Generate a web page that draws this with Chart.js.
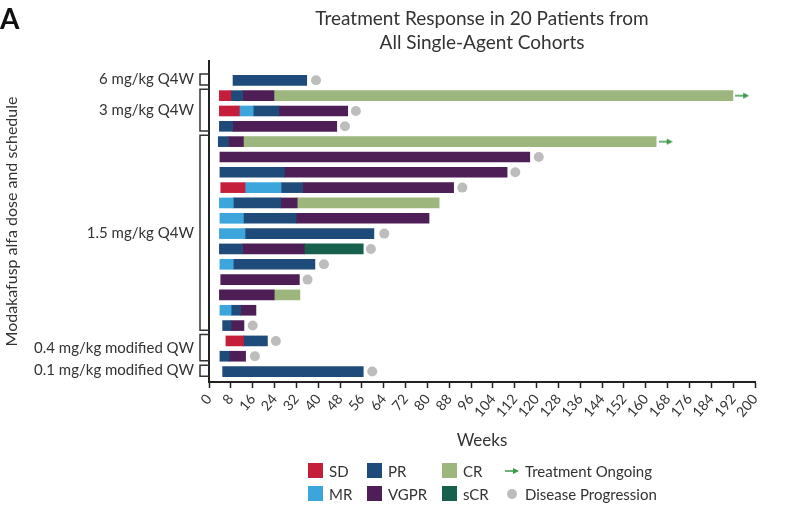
<!DOCTYPE html>
<html>
<head>
<meta charset="utf-8">
<script src="https://cdn.jsdelivr.net/npm/chart.js@4/dist/chart.umd.min.js"></script>
<style>
  body { margin: 0; background: #fff; font-family: Lato, sans-serif; }
  #wrap { position: relative; width: 800px; height: 527px; }
  #legend {
    position: absolute; left: 308px; top: 459px;
    display: grid; grid-auto-flow: column;
    grid-template-rows: 23px 23px;
    grid-template-columns: 59px 75px 61px auto;
    font-size: 15px; color: #333;
  }
  .item { display: flex; align-items: center; }
  .box { width: 15px; height: 15px; margin-right: 6px; }
  .mark { width: 17px; margin-right: 5px; display: flex; justify-content: center; align-items: center; }
  .dot { width: 10px; height: 10px; border-radius: 50%; background: #bdbdbd; }
</style>
</head>
<body>
<div id="wrap">
  <canvas id="canva"></canvas>
  <div id="legend"></div>
</div>
<script>
// patients top to bottom, grouped by dose cohort
var patients = [0,1,2,3,4,5,6,7,8,9,10,11,12,13,14,15,16,17,18,19];
var groupLabels = ['6 mg/kg Q4W', '3 mg/kg Q4W', '1.5 mg/kg Q4W', '0.4 mg/kg modified QW', '0.1 mg/kg modified QW'];
var groupSizes = [1, 3, 13, 2, 1];

// response periods in weeks [start, end], one entry per patient
var sd   = [null, [3.8,8.0], [3.8,11.1], null, null, null, null, [4.3,13.2], null, null, null, null, null, null, null, null, null, [6.2,12.6], null, null];
var mr   = [null, null, [11.1,16.2], null, null, null, null, [13.2,26.4], [3.8,8.9], [4.0,12.6], [3.8,13.2], null, [4.0,8.9], null, null, [4.0,8.1], null, null, null, null];
var pr   = [[8.8,35.8], [8.0,12.3], [16.2,25.6], [3.8,8.7], [3.4,7.1], null, [4.0,27.6], [26.4,34.3], [8.9,26.3], [12.6,31.9], [13.2,60.4], [3.8,12.3], [8.9,38.8], null, null, [8.1,11.6], [5.0,8.1], [12.6,21.4], [4.0,7.4], [5.0,56.5]];
var vgpr = [null, [12.3,23.8], [25.6,50.8], [8.7,46.8], [7.1,12.6], [4.0,117.5], [27.6,109.2], [34.3,89.6], [26.3,32.3], [31.9,80.6], null, [12.3,34.9], null, [4.3,33.1], [3.8,23.9], [11.6,17.2], [8.1,12.8], null, [7.4,13.4], null];
var cr   = [null, [23.8,191.9], null, null, [12.6,163.8], null, null, null, [32.3,84.3], null, null, null, null, null, [23.9,33.3], null, null, null, null, null];
var scr  = [null, null, null, null, null, null, null, null, null, null, null, [34.9,56.5], null, null, null, null, null, null, null, null];

// marker positions in weeks
var progression = [39.2, null, 53.8, 49.8, null, 120.8, 112.2, 92.8, null, null, 64.2, 59.3, 42.1, 36.1, null, null, 16.0, 24.5, 16.8, 59.8];
var ongoing     = [null, 195.3, null, null, 167.3, null, null, null, null, null, null, null, null, null, null, null, null, null, null, null];

var weekTicks = { min: 0, max: 200, step: 8 };

var responses = [
  { label: 'SD',   data: sd,   color: '#c41e3a' },
  { label: 'MR',   data: mr,   color: '#3ca6dc' },
  { label: 'PR',   data: pr,   color: '#1f4b7a' },
  { label: 'VGPR', data: vgpr, color: '#4e1f57' },
  { label: 'CR',   data: cr,   color: '#9db67e' },
  { label: 'sCR',  data: scr,  color: '#16604d' }
];
var arrowColor = '#3a9a4a';
var dotColor = '#bdbdbd';

function arrowImage(color) {
  var c = document.createElement('canvas');
  c.width = 14; c.height = 8;
  var g = c.getContext('2d');
  g.strokeStyle = color; g.fillStyle = color; g.lineWidth = 1.5;
  g.beginPath(); g.moveTo(0, 4); g.lineTo(9, 4); g.stroke();
  g.beginPath(); g.moveTo(14, 4); g.lineTo(8, 1); g.lineTo(8, 7); g.closePath(); g.fill();
  return c;
}
var arrow = arrowImage(arrowColor);

function toPoints(arr) {
  var out = [];
  arr.forEach(function (v, i) { if (v !== null) out.push({ x: v, y: patients[i] }); });
  return out;
}

var datasets = responses.map(function (r) {
  return {
    label: r.label,
    data: r.data,
    backgroundColor: r.color,
    grouped: false,
    barThickness: 10
  };
});
datasets.push({
  type: 'scatter', label: 'Treatment Ongoing', data: toPoints(ongoing),
  pointStyle: arrow, pointRadius: 6
});
datasets.push({
  type: 'scatter', label: 'Disease Progression', data: toPoints(progression),
  pointStyle: 'circle', pointRadius: 5, backgroundColor: dotColor, borderWidth: 0
});

// cohort brackets, cohort labels, title and panel letter
var decorations = {
  id: 'decorations',
  afterDraw: function (chart) {
    var ctx = chart.ctx, y = chart.scales.y, area = chart.chartArea;
    ctx.save();
    ctx.strokeStyle = '#333';
    ctx.lineWidth = 1.5;
    ctx.fillStyle = '#333';
    ctx.font = '15px Lato';
    ctx.textAlign = 'right';
    ctx.textBaseline = 'middle';
    var first = 0;
    groupSizes.forEach(function (n, gi) {
      var last = first + n - 1;
      var y1 = y.getPixelForValue(first - 0.42);
      var y2 = y.getPixelForValue(last + 0.3);
      var x2 = area.left, x1 = area.left - 9;
      ctx.beginPath();
      ctx.moveTo(x2, y1); ctx.lineTo(x1, y1); ctx.lineTo(x1, y2); ctx.lineTo(x2, y2);
      ctx.stroke();
      ctx.fillText(groupLabels[gi], area.left - 15, (y1 + y2) / 2);
      first = last + 1;
    });
    ctx.textAlign = 'center';
    ctx.font = '19px Lato';
    var cx = (area.left + area.right) / 2;
    ctx.fillText('Treatment Response in 20 Patients from', cx, 19);
    ctx.fillText('All Single-Agent Cohorts', cx, 43);
    ctx.textAlign = 'left';
    ctx.fillStyle = '#111';
    ctx.font = 'bold 28px Lato';
    ctx.fillText('A', 0, 20);
    ctx.restore();
  }
};

Chart.defaults.font.family = 'Lato';
Chart.defaults.color = '#333';

new Chart(document.getElementById('canva'), {
  type: 'bar',
  data: { labels: patients, datasets: datasets },
  plugins: [decorations],
  options: {
    indexAxis: 'y',
    responsive: true,
    maintainAspectRatio: false,
    animation: false,
    layout: { padding: { top: 61, right: 45, bottom: 0, left: 0 } },
    plugins: {
      legend: { display: false },
      title: { display: false },
      tooltip: { enabled: false }
    },
    scales: {
      x: {
        type: 'linear',
        min: weekTicks.min,
        max: weekTicks.max,
        ticks: { stepSize: weekTicks.step, autoSkip: false, minRotation: 50, maxRotation: 50, padding: 3, font: { size: 14 }, color: '#333' },
        grid: { drawOnChartArea: false, drawTicks: true, tickLength: 6, tickColor: '#222', tickWidth: 1.5 },
        border: { display: true, color: '#222', width: 2 },
        title: { display: true, text: 'Weeks', font: { size: 17 }, color: '#333', padding: { top: 0, bottom: 76 } },
        afterFit: function (scale) { scale.height = 145; }
      },
      y: {
        type: 'linear',
        reverse: true,
        offset: false,
        min: -1.26,
        max: 19.68,
        ticks: { display: false },
        grid: { display: false, offset: false },
        border: { display: true, color: '#222', width: 2 },
        title: { display: true, text: 'Modakafusp alfa dose and schedule', font: { size: 16 }, color: '#333', padding: { top: 2, bottom: 0 } },
        afterFit: function (scale) { scale.width = 209; }
      }
    }
  }
});

// legend laid out in two rows like the figure
var legend = document.getElementById('legend');
var entries = responses.map(function (r) { return { label: r.label, color: r.color, kind: 'box' }; });
entries.push({ label: 'Treatment Ongoing', kind: 'arrow' });
entries.push({ label: 'Disease Progression', kind: 'dot' });
entries.forEach(function (e) {
  var item = document.createElement('div');
  item.className = 'item';
  var m;
  if (e.kind === 'box') {
    m = document.createElement('span');
    m.className = 'box';
    m.style.background = e.color;
  } else {
    m = document.createElement('span');
    m.className = 'mark';
    if (e.kind === 'arrow') {
      m.appendChild(arrowImage(arrowColor));
    } else {
      var d = document.createElement('span');
      d.className = 'dot';
      m.appendChild(d);
    }
  }
  item.appendChild(m);
  var t = document.createElement('span');
  t.textContent = e.label;
  item.appendChild(t);
  legend.appendChild(item);
});
</script>
</body>
</html>
